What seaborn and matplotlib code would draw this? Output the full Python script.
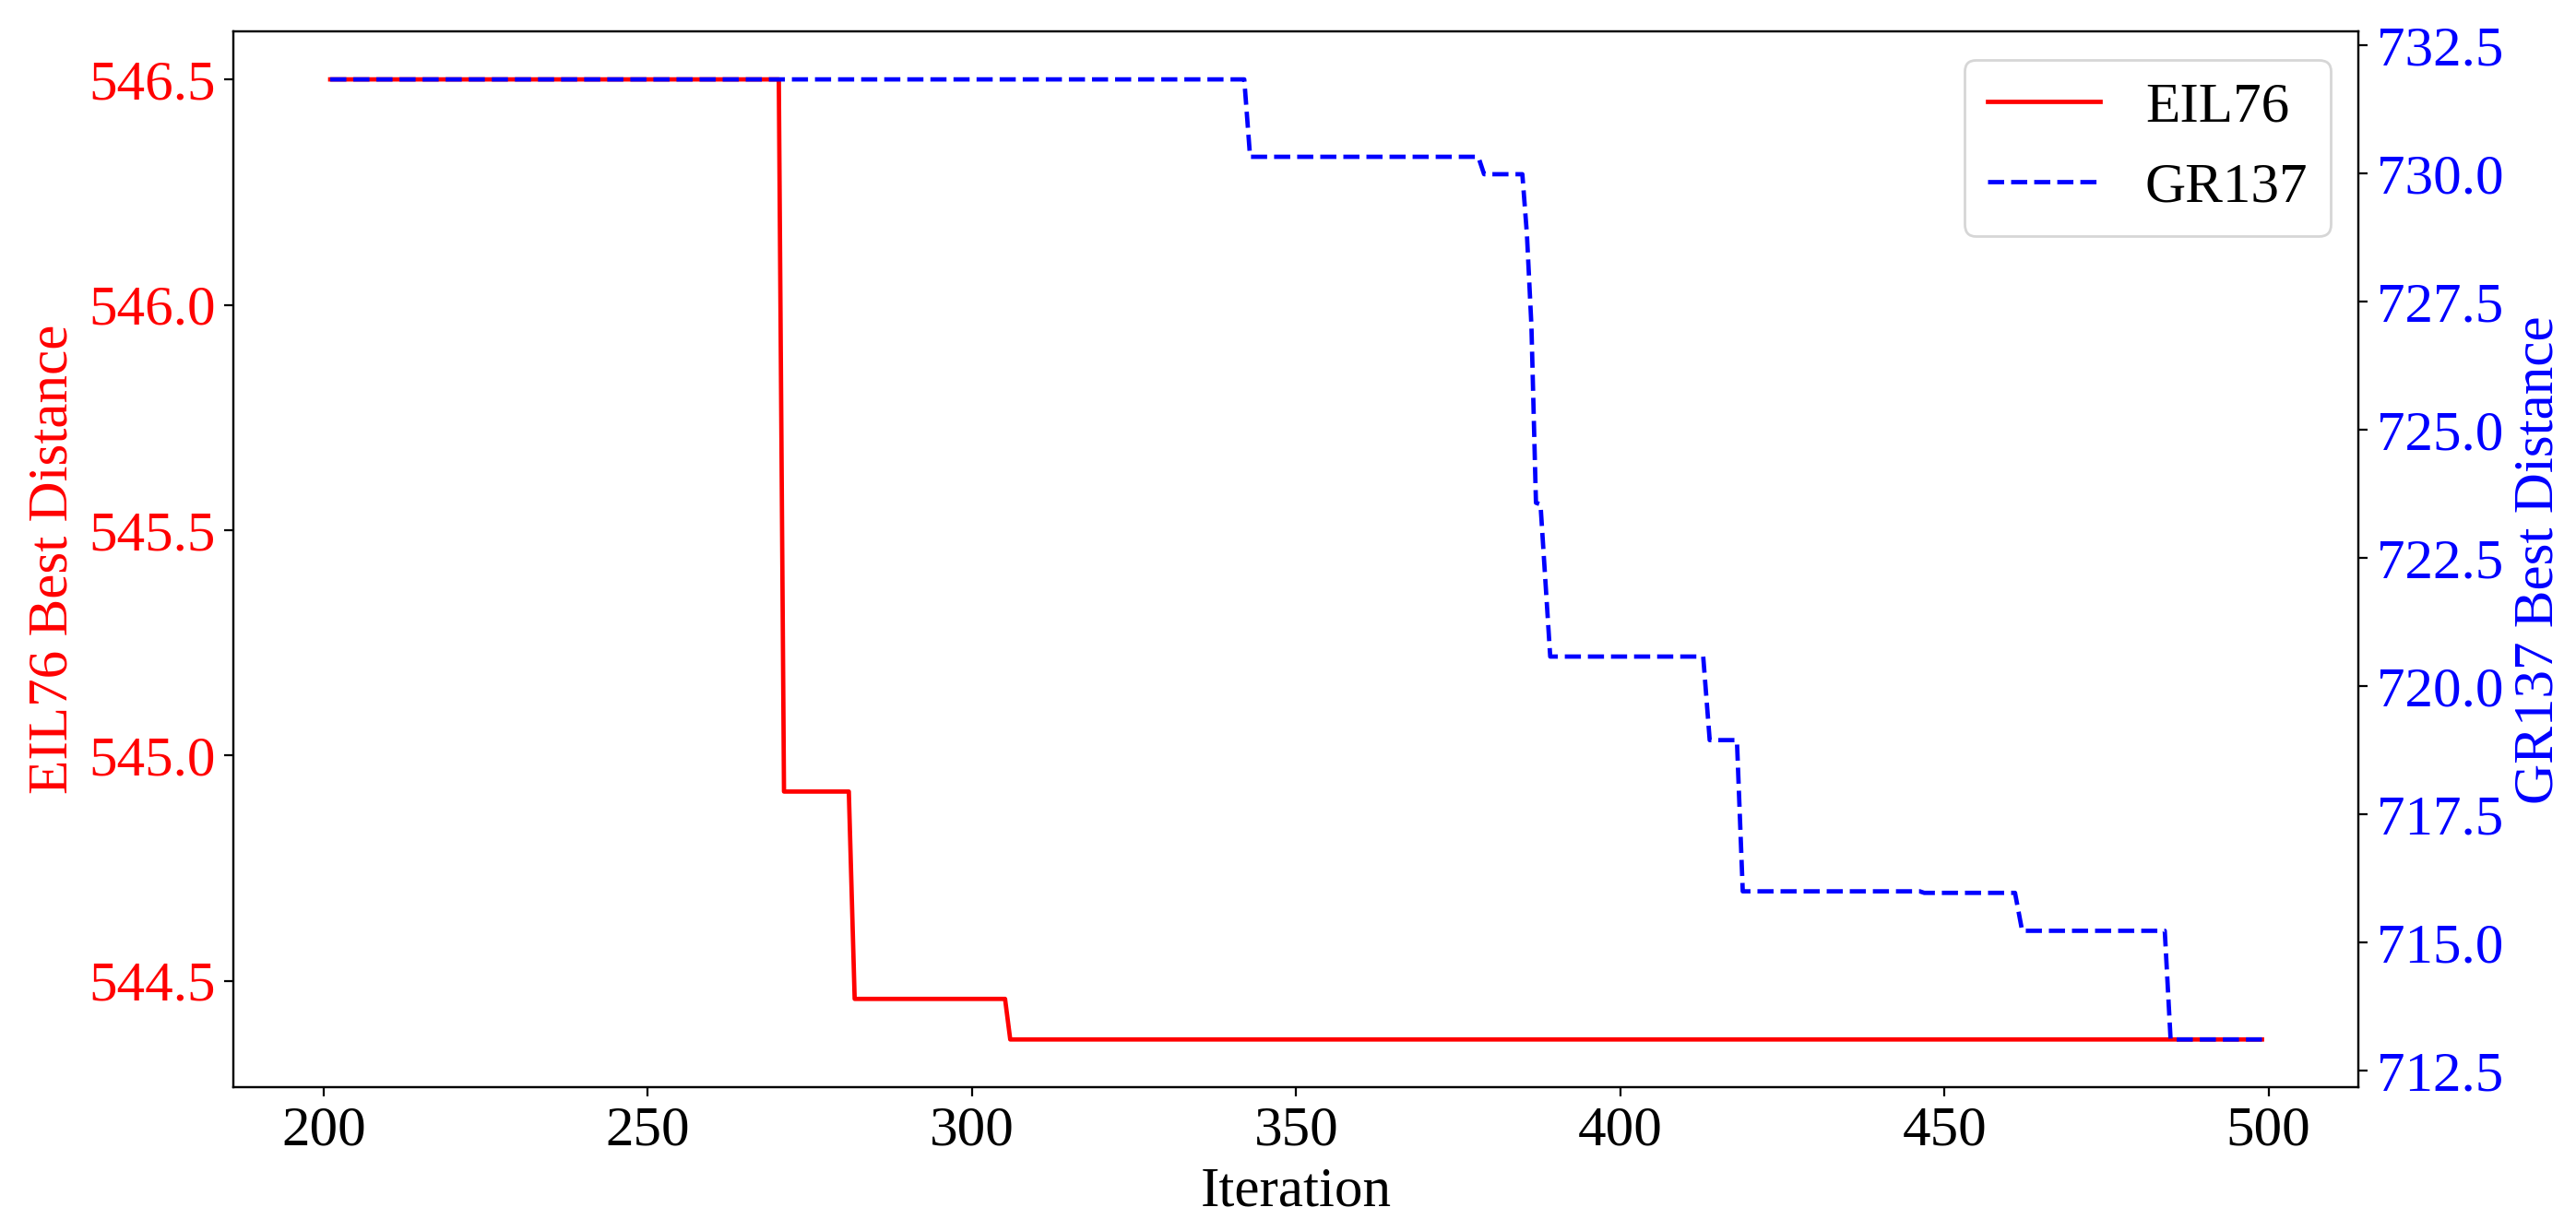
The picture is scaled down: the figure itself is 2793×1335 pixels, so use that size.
import matplotlib
matplotlib.use("Agg")
import matplotlib.pyplot as plt
import pandas as pd
import seaborn as sns

# best distance per iteration (only the corners of each step)
eil76_iter = [201, 270.2, 271.0, 281.0, 281.9, 305.1, 305.9, 499]
eil76_best = [546.50, 546.50, 544.92, 544.92, 544.46, 544.46, 544.37, 544.37]

gr137_iter = [201, 342.0, 342.9, 378.1, 379.0, 384.9, 385.6, 386.3, 387.0, 387.7,
              389.2, 412.8, 413.8, 418.0, 418.9, 446.2, 446.9, 460.9, 462.0, 484.0,
              484.9, 499]
gr137_best = [731.84, 731.84, 730.33, 730.33, 729.99, 729.99, 728.83, 727.03, 723.58, 723.55,
              720.58, 720.58, 718.95, 718.95, 716.00, 716.00, 715.97, 715.97, 715.23, 715.23,
              713.11, 713.11]

plt.rcParams['font.family'] = ['Liberation Serif', 'DejaVu Serif']
plt.rcParams['font.size'] = 22

df1 = pd.DataFrame({'Iteration': eil76_iter, 'best': eil76_best})
df2 = pd.DataFrame({'Iteration': gr137_iter, 'best': gr137_best})

fig, ax = plt.subplots(figsize=(13.965, 6.675), dpi=200)
fig.subplots_adjust(left=0.0907, right=0.9156, top=0.9745, bottom=0.1166)

sns.lineplot(data=df1, x='Iteration', y='best', ax=ax, color='red', lw=1.7, label='EIL76')
ax2 = ax.twinx()
sns.lineplot(data=df2, x='Iteration', y='best', ax=ax2, color='blue', lw=1.7,
             linestyle='--', label='GR137')

ax.set_xlabel('Iteration', fontsize=22)
ax.set_ylabel('EIL76 Best Distance', color='red', fontsize=22)
ax2.set_ylabel('GR137 Best Distance', color='blue', fontsize=22)
ax.tick_params(axis='y', labelcolor='red', labelsize=22)
ax.tick_params(axis='x', labelsize=22)
ax2.tick_params(axis='y', labelcolor='blue', labelsize=22)
ax.set_xticks([200, 250, 300, 350, 400, 450, 500])

h1, l1 = ax.get_legend_handles_labels()
h2, l2 = ax2.get_legend_handles_labels()
ax.get_legend().remove()
ax2.legend(h1 + h2, l1 + l2, loc='upper right', fontsize=22)

fig.savefig('out.png', dpi=200)
